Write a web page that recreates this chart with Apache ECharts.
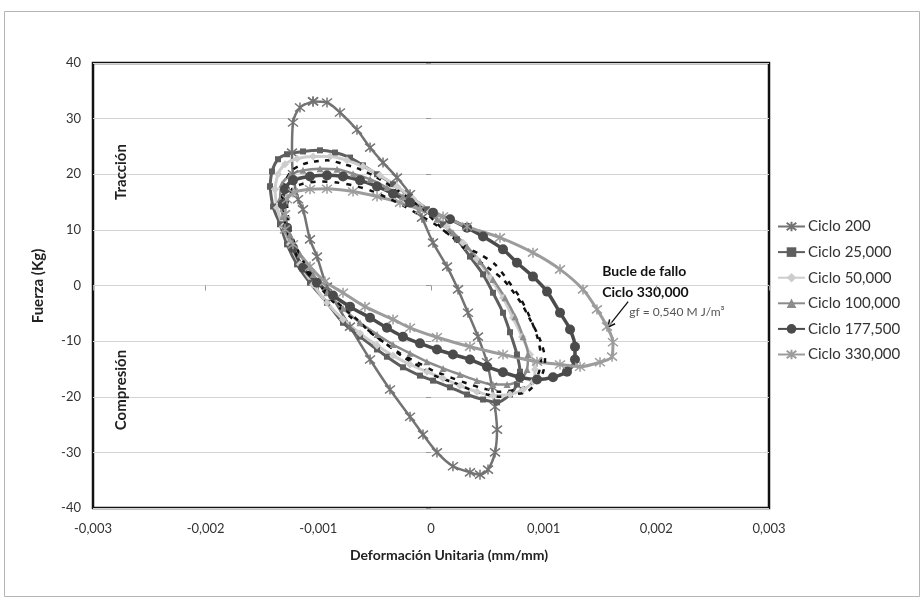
<!DOCTYPE html>
<html>
<head>
<meta charset="utf-8">
<script src="https://cdn.jsdelivr.net/npm/echarts@6/dist/echarts.min.js"></script>
<style>
  html, body { margin: 0; padding: 0; background: #fff; }
  #chart { width: 924px; height: 600px; }
</style>
</head>
<body>
<div id="chart"></div>
<script>
// Hysteresis loops: force (Kg) vs unit strain (mm/mm) at several fatigue cycles.
const FONT = 'Lato, "Open Sans", "DejaVu Sans", sans-serif';

const cycleNames = ['Ciclo 200', 'Ciclo 25,000', 'Ciclo 50,000', 'Ciclo 100,000', 'Ciclo 177,500', 'Ciclo 330,000'];

const xTickLabels = ['-0,003', '-0,002', '-0,001', '0', '0,001', '0,002', '0,003'];
const yTickLabels = ['-40', '-30', '-20', '-10', '0', '10', '20', '30', '40'];

const ciclo200 = [
  [-0.001047, 33.1], [-0.000923, 32.9], [-0.000808, 31.1], [-0.000657, 28.0], [-0.000541, 24.8],
  [-0.000426, 22.1], [-0.000302, 19.4], [-0.000186, 16.4], [-0.000080, 12.2], [0.000018, 7.7],
  [0.000142, 3.4], [0.000240, -0.7], [0.000328, -4.9], [0.000417, -9.2], [0.000497, -13.8],
  [0.000541, -18.2], [0.000568, -21.8], [0.000586, -25.9], [0.000568, -30.0], [0.000506, -33.1],
  [0.000435, -34.0], [0.000346, -33.6], [0.000195, -32.5], [0.000053, -30.0], [-0.000071, -26.8],
  [-0.000186, -23.6], [-0.000364, -18.7], [-0.000541, -13.3], [-0.000719, -7.4], [-0.000923, -0.2],
  [-0.001012, 5.2], [-0.001074, 8.3], [-0.001136, 13.7], [-0.001180, 15.5], [-0.001225, 20.0],
  [-0.001234, 23.9], [-0.001225, 29.3], [-0.001163, 32.0], [-0.001047, 33.1]
];

const ciclo25000 = [
  [-0.001429, 17.8], [-0.001411, 20.5], [-0.001358, 22.7], [-0.001278, 23.6], [-0.001136, 24.1],
  [-0.000985, 24.3], [-0.000852, 23.9], [-0.000719, 23.0], [-0.000604, 21.6], [-0.000479, 20.0],
  [-0.000337, 18.2], [-0.000186, 16.0], [-0.000036, 13.7], [0.000107, 11.0], [0.000231, 8.3],
  [0.000346, 5.2], [0.000462, 2.0], [0.000550, -1.3], [0.000639, -4.9], [0.000701, -8.4],
  [0.000763, -12.4], [0.000790, -15.5], [0.000763, -17.8], [0.000701, -19.6], [0.000586, -21.0],
  [0.000462, -20.5], [0.000320, -19.6], [0.000169, -18.3], [0.000018, -17.1], [-0.000098, -16.2],
  [-0.000249, -14.7], [-0.000391, -12.8], [-0.000479, -11.5], [-0.000630, -9.2], [-0.000781, -6.7],
  [-0.000923, -3.1], [-0.001074, 0.5], [-0.001189, 3.8], [-0.001278, 7.4], [-0.001340, 11.0],
  [-0.001402, 14.2], [-0.001429, 17.8]
];

const ciclo50000 = [
  [-0.001385, 17.3], [-0.001358, 20.0], [-0.001296, 21.8], [-0.001189, 22.8], [-0.001047, 23.2],
  [-0.000896, 23.2], [-0.000746, 22.5], [-0.000604, 21.4], [-0.000453, 19.8], [-0.000302, 17.8],
  [-0.000160, 15.6], [-0.000009, 13.3], [0.000142, 10.6], [0.000284, 7.7], [0.000408, 4.7],
  [0.000524, 1.4], [0.000639, -2.2], [0.000728, -5.8], [0.000808, -9.2], [0.000879, -12.4],
  [0.000923, -15.1], [0.000905, -17.3], [0.000817, -18.7], [0.000701, -19.6], [0.000550, -19.8],
  [0.000408, -19.1], [0.000257, -18.0], [0.000107, -16.7], [-0.000036, -15.5], [-0.000186, -14.2],
  [-0.000337, -12.6], [-0.000479, -10.8], [-0.000630, -8.6], [-0.000781, -6.1], [-0.000923, -3.1],
  [-0.001047, 0.2], [-0.001163, 3.8], [-0.001252, 7.4], [-0.001314, 10.6], [-0.001367, 14.0],
  [-0.001385, 17.3]
];

const ciclo100000 = [
  [-0.001340, 15.5], [-0.001323, 18.2], [-0.001252, 19.8], [-0.001136, 20.7], [-0.000985, 21.0],
  [-0.000834, 20.9], [-0.000692, 20.1], [-0.000541, 19.1], [-0.000391, 17.6], [-0.000249, 16.0],
  [-0.000098, 14.0], [0.000053, 11.9], [0.000195, 9.5], [0.000320, 7.0], [0.000435, 4.3],
  [0.000550, 1.1], [0.000657, -2.2], [0.000746, -5.6], [0.000817, -9.2], [0.000861, -12.4],
  [0.000852, -15.1], [0.000790, -16.9], [0.000675, -17.8], [0.000550, -17.8], [0.000408, -17.1],
  [0.000257, -16.0], [0.000107, -14.9], [-0.000036, -13.7], [-0.000186, -12.2], [-0.000337, -10.6],
  [-0.000479, -8.8], [-0.000630, -6.7], [-0.000781, -4.1], [-0.000923, -1.3], [-0.001047, 2.0],
  [-0.001163, 5.6], [-0.001252, 9.2], [-0.001314, 12.4], [-0.001340, 15.5]
];

const ciclo177500 = [
  [-0.001314, 14.6], [-0.001296, 17.3], [-0.001225, 18.9], [-0.001074, 19.6], [-0.000923, 19.8],
  [-0.000781, 19.6], [-0.000630, 18.9], [-0.000479, 17.8], [-0.000337, 16.5], [-0.000186, 14.9],
  [0.000018, 13.1], [0.000169, 11.9], [0.000320, 10.4], [0.000462, 8.8], [0.000639, 6.5],
  [0.000763, 4.1], [0.000905, 1.6], [0.001030, -1.1], [0.001145, -4.9], [0.001234, -7.9],
  [0.001278, -11.0], [0.001278, -13.3], [0.001207, -15.5], [0.001083, -16.5], [0.000941, -16.9],
  [0.000790, -16.5], [0.000639, -15.6], [0.000497, -14.6], [0.000346, -13.3], [0.000195, -12.4],
  [0.000053, -11.5], [-0.000098, -10.4], [-0.000249, -9.2], [-0.000391, -7.6], [-0.000541, -5.8],
  [-0.000719, -3.8], [-0.000870, -1.8], [-0.001012, 0.5], [-0.001136, 3.2], [-0.001225, 6.8],
  [-0.001278, 10.4], [-0.001314, 14.6]
];

const ciclo330000 = [
  [-0.001296, 12.8], [-0.001278, 15.5], [-0.001225, 16.7], [-0.001074, 17.3], [-0.000923, 17.4],
  [-0.000692, 16.9], [-0.000479, 16.0], [-0.000275, 14.9], [-0.000098, 13.7], [0.000107, 12.4],
  [0.000320, 10.6], [0.000612, 8.6], [0.000905, 5.9], [0.001145, 2.9], [0.001349, -0.7],
  [0.001473, -4.3], [0.001562, -7.4], [0.001615, -10.2], [0.001607, -12.8], [0.001500, -13.8],
  [0.001323, -14.6], [0.001145, -14.2], [0.000941, -13.7], [0.000639, -12.4], [0.000346, -11.0],
  [0.000053, -9.3], [-0.000186, -7.6], [-0.000337, -6.1], [-0.000586, -3.8], [-0.000781, -1.3],
  [-0.000941, 0.7], [-0.001074, 3.4], [-0.001225, 7.4], [-0.001296, 10.1], [-0.001296, 12.8]
];

// Two dashed black loops drawn without legend entries
const dashedLoopA = [
  [-0.001323, 15.5], [-0.001296, 18.5], [-0.001234, 20.7], [-0.001136, 21.8], [-0.001030, 22.3],
  [-0.000923, 22.5], [-0.000790, 21.9], [-0.000630, 20.9], [-0.000479, 19.4], [-0.000337, 17.6],
  [-0.000186, 15.5], [-0.000036, 12.9], [0.000107, 10.1], [0.000257, 7.4], [0.000373, 5.2],
  [0.000506, 3.2], [0.000639, 1.1], [0.000728, -1.1], [0.000808, -3.4], [0.000879, -6.1],
  [0.000967, -9.7], [0.001012, -13.3], [0.000994, -15.6], [0.000941, -17.4], [0.000852, -19.1],
  [0.000728, -19.6], [0.000612, -20.0], [0.000497, -19.6], [0.000346, -18.7], [0.000195, -17.4],
  [0.000053, -16.4], [-0.000098, -14.6], [-0.000249, -12.8], [-0.000391, -10.6], [-0.000541, -8.4],
  [-0.000657, -6.1], [-0.000790, -3.8], [-0.000923, -1.3], [-0.001047, 1.1], [-0.001163, 4.3],
  [-0.001252, 8.3], [-0.001305, 11.9], [-0.001323, 15.5]
];

const dashedLoopB = [
  [-0.001278, 14.6], [-0.001234, 17.3], [-0.001136, 18.3], [-0.000985, 18.7], [-0.000834, 18.5],
  [-0.000692, 18.0], [-0.000541, 17.1], [-0.000391, 15.8], [-0.000249, 14.4], [-0.000098, 12.6],
  [0.000053, 10.8], [0.000195, 8.6], [0.000320, 6.8], [0.000435, 5.6], [0.000568, 3.8],
  [0.000675, 1.1], [0.000790, -2.2], [0.000879, -5.8], [0.000950, -9.7], [0.000976, -13.3],
  [0.000950, -16.0], [0.000879, -17.8], [0.000763, -18.7], [0.000612, -19.1], [0.000462, -18.5],
  [0.000320, -17.6], [0.000169, -16.5], [0.000018, -15.3], [-0.000124, -13.8], [-0.000275, -12.2],
  [-0.000426, -10.1], [-0.000568, -7.9], [-0.000719, -5.6], [-0.000870, -2.9], [-0.001003, 0.2],
  [-0.001118, 3.8], [-0.001207, 7.4], [-0.001260, 11.0], [-0.001278, 14.6]
];

// Asterisk marker (vertical bar crossed by an X), stroked
const STAR = 'path://M0,-10L0,10M-8,-8L8,8M8,-8L-8,8';

function loopSeries(name, data, color, width, symbol, size) {
  const star = symbol === STAR;
  return {
    name: name,
    type: 'line',
    data: data,
    smooth: 0.3,
    symbol: symbol,
    symbolSize: size,
    showSymbol: true,
    animation: false,
    lineStyle: { color: color, width: width },
    itemStyle: star
      ? { color: color, borderColor: color, borderWidth: 1.5 }
      : { color: color, borderColor: color, borderWidth: 0 }
  };
}

const chart = echarts.init(document.getElementById('chart'), null, { renderer: 'canvas' });

const option = {
  backgroundColor: '#fff',
  animation: false,
  textStyle: { fontFamily: FONT },
  grid: {
    left: 93, right: 155, top: 63, bottom: 92,
    show: true, borderColor: '#111', borderWidth: 2.5, backgroundColor: 'transparent'
  },
  xAxis: {
    type: 'value', min: -0.003, max: 0.003, interval: 0.001,
    axisLine: { show: false },
    axisTick: { show: true, length: 5, lineStyle: { color: '#999' } },
    splitLine: { show: false },
    axisLabel: {
      margin: 14, color: '#333', fontSize: 13, fontFamily: FONT,
      formatter: v => xTickLabels[Math.round((v + 0.003) / 0.001)]
    }
  },
  yAxis: {
    type: 'value', min: -40, max: 40, interval: 10,
    axisLine: { show: false },
    axisTick: { show: true, length: 5, lineStyle: { color: '#999' } },
    splitLine: { show: true, lineStyle: { color: '#d4d4d4', width: 1.2 } },
    axisLabel: {
      margin: 12, color: '#333', fontSize: 13, fontFamily: FONT,
      formatter: v => yTickLabels[Math.round((v + 40) / 10)]
    }
  },
  legend: {
    orient: 'vertical', left: 772, top: 214,
    itemWidth: 27, itemHeight: 12, itemGap: 10.6,
    data: cycleNames,
    textStyle: { color: '#333', fontSize: 15, fontFamily: FONT, padding: [0, 0, 0, -2] }
  },
  series: [
    loopSeries(cycleNames[0], ciclo200, '#737373', 2.5, STAR, 10),
    loopSeries(cycleNames[1], ciclo25000, '#5e5e5e', 3, 'rect', 6),
    loopSeries(cycleNames[2], ciclo50000, '#cdcdcd', 3, 'diamond', 8),
    loopSeries(cycleNames[3], ciclo100000, '#8c8c8c', 2.5, 'triangle', 7),
    loopSeries(cycleNames[4], ciclo177500, '#4b4b4b', 3.5, 'circle', 10),
    loopSeries(cycleNames[5], ciclo330000, '#9c9c9c', 3, STAR, 10),
    {
      name: 'dashedLoopA', type: 'line', data: dashedLoopA, smooth: 0.3,
      showSymbol: false, symbol: 'none', animation: false,
      lineStyle: { color: '#111', width: 2.5, type: [5, 6] }
    },
    {
      name: 'dashedLoopB', type: 'line', data: dashedLoopB, smooth: 0.3,
      showSymbol: false, symbol: 'none', animation: false,
      lineStyle: { color: '#111', width: 2.5, type: [5, 7] }
    }
  ]
};

chart.setOption(option);

// Annotation and titles, placed after the axes exist
const px = (s, f) => chart.convertToPixel({ gridIndex: 0 }, [s, f]);
const tip = px(0.00157, -7.5);
const tail = px(0.00175, -2.9);
const ang = Math.atan2(tip[1] - tail[1], tip[0] - tail[0]);
const head = 8, spread = 0.45;
const h1 = [tip[0] - head * Math.cos(ang - spread), tip[1] - head * Math.sin(ang - spread)];
const h2 = [tip[0] - head * Math.cos(ang + spread), tip[1] - head * Math.sin(ang + spread)];
const t1 = px(0.00152, 2.6);
const t2 = px(0.00152, -1.2);
const t3 = px(0.00176, -4.8);

chart.setOption({
  graphic: [
    { type: 'rect', shape: { x: 4.5, y: 11.5, width: 915, height: 585 },
      style: { fill: 'none', stroke: '#b5b5b5', lineWidth: 1 }, silent: true },
    { type: 'text', x: 449, y: 555, style: { text: 'Deformación Unitaria (mm/mm)', fill: '#222',
      font: 'bold 14px ' + FONT, textAlign: 'center', textVerticalAlign: 'middle' } },
    { type: 'text', x: 38, y: 286, rotation: Math.PI / 2, style: { text: 'Fuerza (Kg)', fill: '#222',
      font: 'bold 15px ' + FONT, textAlign: 'center', textVerticalAlign: 'middle' } },
    { type: 'text', x: 121, y: 172, rotation: Math.PI / 2, style: { text: 'Tracción', fill: '#222',
      font: 'bold 15px ' + FONT, textAlign: 'center', textVerticalAlign: 'middle' } },
    { type: 'text', x: 121, y: 390, rotation: Math.PI / 2, style: { text: 'Compresión', fill: '#222',
      font: 'bold 15px ' + FONT, textAlign: 'center', textVerticalAlign: 'middle' } },
    { type: 'text', x: t1[0], y: t1[1], style: { text: 'Bucle de fallo', fill: '#111',
      font: 'bold 14px ' + FONT, textAlign: 'left', textVerticalAlign: 'middle' } },
    { type: 'text', x: t2[0], y: t2[1], style: { text: 'Ciclo 330,000', fill: '#111',
      font: 'bold 14px ' + FONT, textAlign: 'left', textVerticalAlign: 'middle' } },
    { type: 'text', x: t3[0], y: t3[1], style: { text: 'gf = 0,540 M J/m³', fill: '#555',
      font: '12px ' + FONT, textAlign: 'left', textVerticalAlign: 'middle' } },
    { type: 'polyline', shape: { points: [tail, tip] }, style: { stroke: '#111', lineWidth: 1.3, fill: null } },
    { type: 'polyline', shape: { points: [h1, tip, h2] }, style: { stroke: '#111', lineWidth: 1.5, fill: null } }
  ]
});
</script>
</body>
</html>
